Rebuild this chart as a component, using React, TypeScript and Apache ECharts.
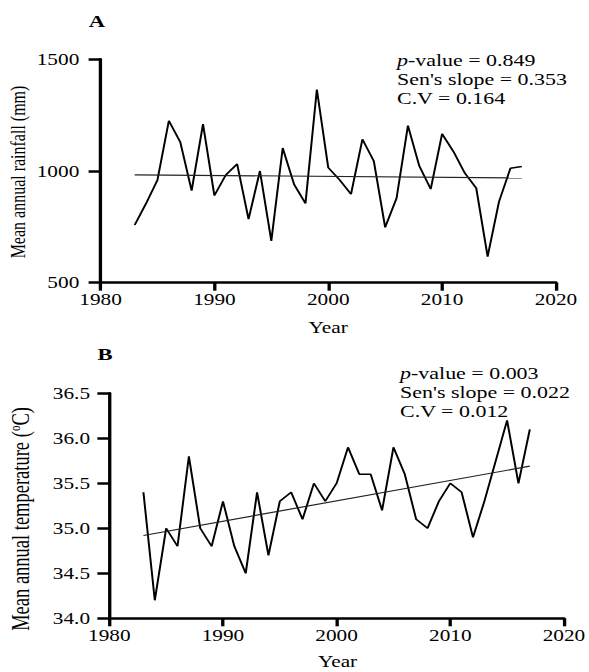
import React, { useEffect, useRef } from "react";
import * as echarts from "echarts";

// ---- data ----
const years = [
  1983, 1984, 1985, 1986, 1987, 1988, 1989, 1990, 1991, 1992, 1993, 1994,
  1995, 1996, 1997, 1998, 1999, 2000, 2001, 2002, 2003, 2004, 2005, 2006,
  2007, 2008, 2009, 2010, 2011, 2012, 2013, 2014, 2015, 2016, 2017,
];
const rainfall = [
  758, 855, 960, 1225, 1130, 912, 1210, 890, 982, 1031, 785, 1000, 687, 1103,
  940, 855, 1365, 1015, 960, 896, 1142, 1045, 748, 878, 1203, 1022, 919, 1166,
  1087, 990, 923, 617, 863, 1012, 1020,
];
const temperature = [
  35.4, 34.2, 35.0, 34.8, 35.8, 35.0, 34.8, 35.3, 34.8, 34.5, 35.4, 34.7, 35.3,
  35.4, 35.1, 35.5, 35.3, 35.5, 35.9, 35.6, 35.6, 35.2, 35.9, 35.6, 35.1, 35.0,
  35.3, 35.5, 35.4, 34.9, 35.3, 35.75, 36.2, 35.5, 36.1,
];
const rainTrendYears = [1983, 2017];
const rainTrend = [983, 969];
const tempTrendYears = [1983, 2017];
const tempTrend = [34.92, 35.69];
const yearTicks = [1980, 2020, 10];
const rainTicks = [500, 1500, 500];
const tempTicks = [34, 36.5, 0.5];
const statsA = ["0.849", "0.353", "0.164"];
const statsB = ["0.003", "0.022", "0.012"];

const S = 1.33;
const W = 443;
const H = 672;
const FONT = "'Liberation Serif', 'Times New Roman', serif";

const pairs = (xs: number[], ys: number[]) => xs.map((x, i) => [x, ys[i]]);

function xAxis(gridIndex: number) {
  return {
    type: "value",
    gridIndex,
    min: yearTicks[0],
    max: yearTicks[1],
    interval: yearTicks[2],
    axisLine: { show: true, lineStyle: { color: "#000", width: 2.5 } },
    axisTick: { show: true, length: 8, lineStyle: { color: "#000", width: 2.5 } },
    axisLabel: {
      color: "#000",
      fontSize: 16,
      fontFamily: FONT,
      margin: 9,
      formatter: (v: number) => String(v),
    },
    splitLine: { show: false },
  };
}

function yAxis(gridIndex: number, t: number[], margin: number, fmt: (v: number) => string) {
  return {
    type: "value",
    gridIndex,
    min: t[0],
    max: t[1],
    interval: t[2],
    axisLine: { show: true, lineStyle: { color: "#000", width: 2.5 } },
    axisTick: { show: true, length: 9, lineStyle: { color: "#000", width: 2.5 } },
    axisLabel: { color: "#000", fontSize: 16, fontFamily: FONT, margin, formatter: fmt },
    splitLine: { show: false },
  };
}

function statsText(x: number, y: number, s: string[]) {
  return {
    type: "text",
    x,
    y,
    style: {
      text: `{i|p}-value = ${s[0]}\nSen's slope = ${s[1]}\nC.V = ${s[2]}`,
      fontSize: 16.5,
      fontFamily: FONT,
      lineHeight: 19,
      fill: "#000",
      align: "left",
      verticalAlign: "top",
      rich: {
        i: { fontStyle: "italic", fontSize: 16.5, fontFamily: FONT, lineHeight: 19, fill: "#000" },
      },
    },
  };
}

const option = {
  animation: false,
  backgroundColor: "#fff",
  grid: [
    { left: 75.6, right: 25, top: 59.3, height: 223.4, containLabel: false },
    { left: 82.2, right: 17.7, top: 393.3, height: 225, containLabel: false },
  ],
  xAxis: [xAxis(0), xAxis(1)],
  yAxis: [
    yAxis(0, rainTicks, 16, (v: number) => String(v)),
    yAxis(1, tempTicks, 14.5, (v: number) => v.toFixed(1)),
  ],
  series: [
    {
      type: "line",
      xAxisIndex: 0,
      yAxisIndex: 0,
      data: pairs(years, rainfall),
      symbol: "none",
      lineStyle: { color: "#000", width: 1.5 },
    },
    {
      type: "line",
      xAxisIndex: 0,
      yAxisIndex: 0,
      data: pairs(rainTrendYears, rainTrend),
      symbol: "none",
      lineStyle: { color: "#222", width: 1.2 },
    },
    {
      type: "line",
      xAxisIndex: 1,
      yAxisIndex: 1,
      data: pairs(years, temperature),
      symbol: "none",
      lineStyle: { color: "#000", width: 1.5 },
    },
    {
      type: "line",
      xAxisIndex: 1,
      yAxisIndex: 1,
      data: pairs(tempTrendYears, tempTrend),
      symbol: "none",
      lineStyle: { color: "#222", width: 1.2 },
    },
  ],
  graphic: [
    {
      type: "text",
      x: 72.9,
      y: 21,
      style: { text: "A", fontSize: 17, fontWeight: "bold", fontFamily: FONT, fill: "#000", align: "center", verticalAlign: "middle" },
    },
    {
      type: "text",
      x: 79,
      y: 354,
      style: { text: "B", fontSize: 17, fontWeight: "bold", fontFamily: FONT, fill: "#000", align: "center", verticalAlign: "middle" },
    },
    statsText(298.5, 51.2, statsA),
    statsText(300.8, 363.5, statsB),
    {
      type: "text",
      x: 13.5,
      y: 172,
      rotation: Math.PI / 2,
      style: { text: "Mean annual rainfall (mm)", fontSize: 16, fontFamily: FONT, fill: "#000", align: "center", verticalAlign: "middle" },
    },
    {
      type: "text",
      x: 15.5,
      y: 519,
      rotation: Math.PI / 2,
      style: {
        text: "Mean annual temperature ({sup|o}C)",
        fontSize: 18.5,
        fontFamily: FONT,
        lineHeight: 20,
        fill: "#000",
        align: "center",
        verticalAlign: "middle",
        rich: {
          sup: { fontSize: 11, fontFamily: FONT, lineHeight: 11, verticalAlign: "top", fill: "#000" },
        },
      },
    },
    {
      type: "text",
      x: 246.7,
      y: 327,
      style: { text: "Year", fontSize: 16, fontFamily: FONT, fill: "#000", align: "center", verticalAlign: "middle" },
    },
    {
      type: "text",
      x: 253.8,
      y: 661,
      style: { text: "Year", fontSize: 16, fontFamily: FONT, fill: "#000", align: "center", verticalAlign: "middle" },
    },
  ],
};

export default function App() {
  const ref = useRef<HTMLDivElement>(null);
  useEffect(() => {
    const chart = echarts.init(ref.current!, null, { renderer: "svg", width: W, height: H });
    chart.setOption(option as any);
    return () => chart.dispose();
  }, []);
  return (
    <div style={{ position: "absolute", left: 0, top: 0, width: 589, height: 672, overflow: "hidden", background: "#fff" }}>
      <div
        ref={ref}
        style={{ width: W, height: H, transform: `scaleX(${S})`, transformOrigin: "0 0" }}
      />
    </div>
  );
}
